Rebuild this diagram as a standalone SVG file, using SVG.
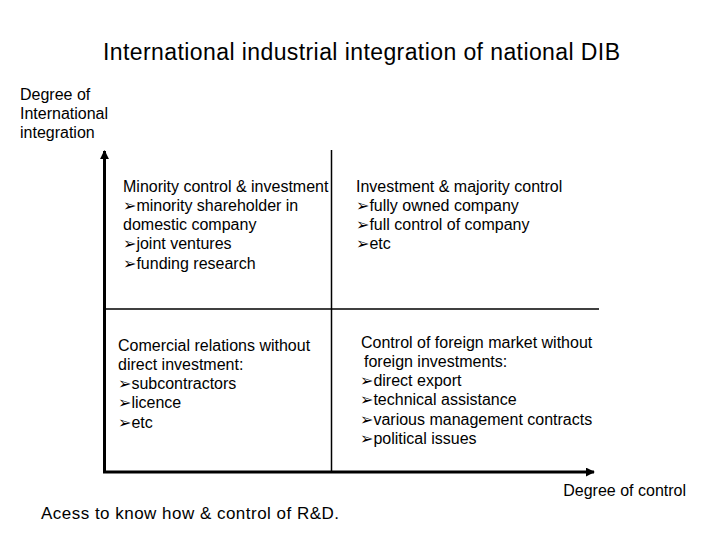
<svg xmlns="http://www.w3.org/2000/svg" width="720" height="540" viewBox="0 0 720 540">
<style>
text{font-family:"Liberation Sans",Arial,sans-serif;fill:#000;font-size:16px}
.t{font-size:23px}
.b{font-family:"DejaVu Sans",sans-serif;font-size:16px}
.ax{stroke:#000;stroke-width:3;fill:none}
.dv{stroke:#000;stroke-width:1.5;fill:none}
</style>
<defs>
<marker id="ah" viewBox="0 0 10 10" refX="9" refY="5" markerWidth="3" markerHeight="3" orient="auto" markerUnits="strokeWidth">
<path d="M0,0 L10,5 L0,10 z" fill="#000"/>
</marker>
</defs>
<rect width="720" height="540" fill="#fff"/>
<text class="t" x="103" y="60" textLength="517" lengthAdjust="spacing">International industrial integration of national DIB</text>
<g id="yaxis-label">
<text x="20" y="100">Degree of</text>
<text x="20" y="119">International</text>
<text x="20" y="138">integration</text>
</g>
<g id="connectors">
<line class="ax" x1="104.5" y1="472" x2="104.5" y2="151" marker-end="url(#ah)"/>
<line class="ax" x1="103" y1="472" x2="594" y2="472" marker-end="url(#ah)"/>
<line class="dv" x1="331.5" y1="150" x2="331.5" y2="472"/>
<line class="dv" x1="104" y1="309" x2="599" y2="309"/>
</g>
<g id="q-top-left">
<text x="123" y="192">Minority control &amp; investment</text>
<text x="123" y="211"><tspan class="b">➢</tspan>minority shareholder in</text>
<text x="123" y="230">domestic company</text>
<text x="123" y="249"><tspan class="b">➢</tspan>joint ventures</text>
<text x="123" y="269"><tspan class="b">➢</tspan>funding research</text>
</g>
<g id="q-top-right">
<text x="356" y="192">Investment &amp; majority control</text>
<text x="356" y="211"><tspan class="b">➢</tspan>fully owned company</text>
<text x="356" y="230"><tspan class="b">➢</tspan>full control of company</text>
<text x="356" y="249"><tspan class="b">➢</tspan>etc</text>
</g>
<g id="q-bottom-left">
<text x="118" y="351">Comercial relations without</text>
<text x="118" y="370">direct investment:</text>
<text x="118" y="389"><tspan class="b">➢</tspan>subcontractors</text>
<text x="118" y="408"><tspan class="b">➢</tspan>licence</text>
<text x="118" y="428"><tspan class="b">➢</tspan>etc</text>
</g>
<g id="q-bottom-right">
<text x="361" y="348">Control of foreign market without</text>
<text x="364" y="367">foreign investments:</text>
<text x="360" y="386"><tspan class="b">➢</tspan>direct export</text>
<text x="360" y="405"><tspan class="b">➢</tspan>technical assistance</text>
<text x="360" y="425"><tspan class="b">➢</tspan>various management contracts</text>
<text x="360" y="444"><tspan class="b">➢</tspan>political issues</text>
</g>
<g id="xaxis-label">
<text x="686" y="496" text-anchor="end">Degree of control</text>
</g>
<g id="footer">
<text x="41" y="519" style="font-size:17px" textLength="298" lengthAdjust="spacing">Acess to know how &amp; control of R&amp;D.</text>
</g>
</svg>
